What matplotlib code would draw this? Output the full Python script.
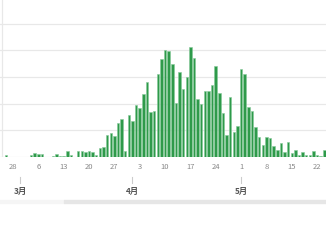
import numpy as np
import pandas as pd
import matplotlib
matplotlib.use("Agg")
import matplotlib.pyplot as plt
import matplotlib.dates as mdates
from matplotlib.patches import Rectangle

plt.rcParams['font.family'] = ['Noto Sans CJK JP', 'DejaVu Sans']

# daily counts, starting 2020-02-26
start = "2020-02-26"
valeurs = [3, 1, 0, 1, 1, 0, 1, 4, 8, 6, 6, 0, 0, 2, 6, 2, 2, 11, 3, 0,
           12, 11, 9, 12, 9, 3, 17, 19, 41, 45, 39, 64, 72, 11, 78, 67, 98, 92,
           118, 141, 85, 87, 156, 183, 200, 198, 175, 102, 160, 127, 150, 206,
           186, 109, 100, 124, 124, 134, 170, 119, 82, 41, 113, 46, 59, 165,
           156, 93, 87, 57, 37, 23, 38, 36, 21, 14, 27, 10, 29, 8, 14, 4, 10,
           4, 4, 11, 3, 2, 14]
jours = pd.date_range(start, periods=len(valeurs))

tick_dates = ["2020-02-28", "2020-03-06", "2020-03-13", "2020-03-20", "2020-03-27",
              "2020-04-03", "2020-04-10", "2020-04-17", "2020-04-24", "2020-05-01",
              "2020-05-08", "2020-05-15", "2020-05-22"]
tick_labels = ["28", "6", "13", "20", "27", "3", "10", "17", "24", "1", "8", "15", "22"]
mois_dates = ["2020-03-01", "2020-04-01", "2020-05-01"]
mois_labels = ["3月", "4月", "5月"]
grille = [0, 50, 100, 150, 200, 250]

fig = plt.figure(figsize=(3.26, 2.45), dpi=100)
ax = fig.add_axes([0, 0.359, 1, 0.641])

x = mdates.date2num(jours)
ax.bar(x, valeurs, width=0.68, color='#2e9a4a', edgecolor='#86c99a', linewidth=0.4, zorder=3)

for g in grille:
    ax.axhline(g, color='#e8e8e8', lw=0.9, zorder=1)

x0 = mdates.date2num(pd.Timestamp("2020-02-28"))
ax.set_xlim(x0 - 3.59, x0 + 86.46)
ax.set_ylim(0, 294)
ax.axvline(x0 - 3.1, color='#e8e8e8', lw=0.9, zorder=1)

ax.set_xticks(mdates.date2num(pd.to_datetime(tick_dates)), tick_labels)
ax.tick_params(axis='x', length=0, pad=4.5, labelsize=5.5, labelcolor='#888888')
ax.set_yticks([])
for s in ax.spines.values():
    s.set_visible(False)

tr = ax.get_xaxis_transform()
for d, lab in zip(mois_dates, mois_labels):
    xm = mdates.date2num(pd.Timestamp(d))
    ax.plot([xm, xm], [-0.127, -0.166], color='#cccccc', lw=0.8, transform=tr, clip_on=False)
    ax.text(xm, -0.217, lab, transform=tr, ha='center', va='center',
            fontsize=6, color='#555555', fontweight='bold')

# barre de defilement
fig.patches.append(Rectangle((0, 0.171), 64 / 326, 3 / 245, transform=fig.transFigure,
                             color='#f5f5f5', zorder=0))
fig.patches.append(Rectangle((64 / 326, 0.171), 262 / 326, 3 / 245, transform=fig.transFigure,
                             color='#e6e6e6', zorder=0))

fig.savefig("out.png", dpi=100)
